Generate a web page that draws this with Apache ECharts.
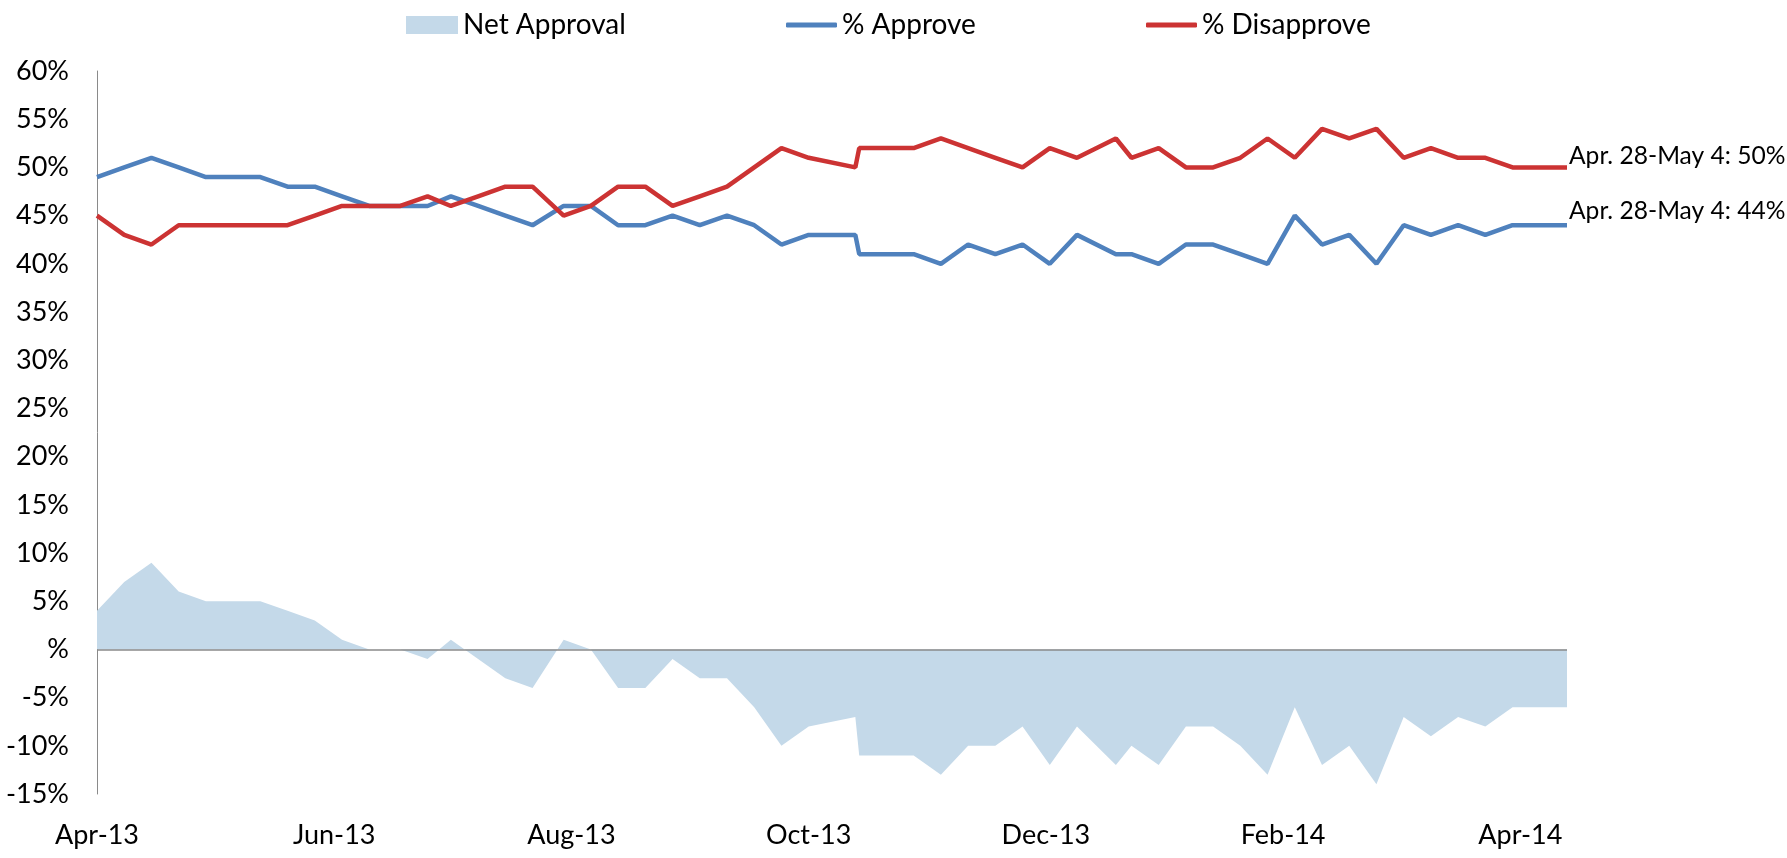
<!DOCTYPE html>
<html><head><meta charset="utf-8">
<script src="https://cdn.jsdelivr.net/npm/echarts@6/dist/echarts.min.js"></script>
<style>html,body{margin:0;padding:0;background:#fff}#c{width:1787px;height:858px}</style>
</head><body><div id="c"></div>
<script>
// Poll dates (week ending), read from the x position of each vertex
const weekDates = [
  '2013-04-21','2013-04-28','2013-05-05','2013-05-12','2013-05-19','2013-05-26',
  '2013-06-02','2013-06-09','2013-06-16','2013-06-23','2013-06-30','2013-07-08',
  '2013-07-15','2013-07-21','2013-07-28','2013-08-04','2013-08-11','2013-08-19',
  '2013-08-26','2013-09-02','2013-09-09','2013-09-16','2013-09-23','2013-09-30',
  '2013-10-07','2013-10-14','2013-10-21','2013-11-02','2013-11-03','2013-11-10',
  '2013-11-17','2013-11-24','2013-12-01','2013-12-08','2013-12-15','2013-12-22',
  '2013-12-29','2014-01-08','2014-01-12','2014-01-19','2014-01-26','2014-02-02',
  '2014-02-09','2014-02-16','2014-02-23','2014-03-02','2014-03-09','2014-03-16',
  '2014-03-23','2014-03-30','2014-04-06','2014-04-13','2014-04-20','2014-04-27',
  '2014-05-04'
];
const approve = [
  49,50,51,50,49,49,49,48,48,47,46,46,46,47,46,45,44,46,46,44,44,45,44,45,44,42,43,
  43,41,41,41,40,42,41,42,40,43,41,41,40,42,42,41,40,45,42,43,40,44,43,44,43,44,44,44
];
const disapprove = [
  45,43,42,44,44,44,44,44,45,46,46,46,47,46,47,48,48,45,46,48,48,46,47,48,50,52,51,
  50,52,52,52,53,52,51,50,52,51,53,51,52,50,50,51,53,51,54,53,54,51,52,51,51,50,50,50
];
const netApproval = [
  4,7,9,6,5,5,5,4,3,1,0,0,-1,1,-1,-3,-4,1,0,-4,-4,-1,-3,-3,-6,-10,-8,
  -7,-11,-11,-11,-13,-10,-10,-8,-12,-8,-12,-10,-12,-8,-8,-10,-13,-6,-12,-10,-14,-7,-9,-7,-8,-6,-6,-6
];
const xTickLabels = ['Apr-13','Jun-13','Aug-13','Oct-13','Dec-13','Feb-14','Apr-14'];
const seriesNames = ['Net Approval','% Approve','% Disapprove'];
const endLabelApprove = 'Apr. 28-May 4: 44%';
const endLabelDisapprove = 'Apr. 28-May 4: 50%';

const TICK_DAYS = 61; // two-month major unit, counted from the first date
const t0 = Date.parse(weekDates[0] + 'T00:00:00Z');
const xs = weekDates.map(d => Math.round((Date.parse(d + 'T00:00:00Z') - t0) / 864e5));
const pair = arr => arr.map((v, i) => [xs[i], v]);

const FONT = 'Lato';
const chart = echarts.init(document.getElementById('c'), null, {renderer: 'canvas'});
const legendBase = {
  top: 6, itemWidth: 52, itemHeight: 18, itemGap: 0, padding: 5,
  textStyle: {fontFamily: FONT, fontSize: 28, color: '#000'}, selectedMode: false
};
chart.setOption({
  animation: false,
  backgroundColor: '#fff',
  grid: {left: 97, right: 220, top: 71, bottom: 64},
  legend: [
    Object.assign({}, legendBase, {left: 401, data: [{name: seriesNames[0], icon: 'rect'}]}),
    Object.assign({}, legendBase, {left: 781, itemHeight: 5, itemWidth: 51,
      data: [{name: seriesNames[1], icon: 'roundRect'}]}),
    Object.assign({}, legendBase, {left: 1141, itemHeight: 5, itemWidth: 51,
      data: [{name: seriesNames[2], icon: 'roundRect'}]})
  ],
  xAxis: {
    type: 'value', min: 0, max: xs[xs.length - 1], interval: TICK_DAYS,
    axisLine: {show: false}, axisTick: {show: false}, splitLine: {show: false},
    axisLabel: {
      show: true, margin: 28, fontFamily: FONT, fontSize: 27, color: '#000',
      showMaxLabel: false,
      formatter: v => (v % TICK_DAYS === 0 ? (xTickLabels[v / TICK_DAYS] || '') : '')
    }
  },
  yAxis: {
    type: 'value', min: -15, max: 60, interval: 5,
    axisLine: {show: true, lineStyle: {color: '#8a8a8a', width: 1}},
    axisTick: {show: false}, splitLine: {show: false},
    axisLabel: {
      margin: 28, fontFamily: FONT, fontSize: 27, color: '#000',
      formatter: v => (v === 0 ? '%' : v + '%')
    }
  },
  series: [
    {
      name: seriesNames[0], type: 'line', data: pair(netApproval), symbol: 'none',
      itemStyle: {color: '#c4d9e9'},
      lineStyle: {width: 0, color: '#c4d9e9'},
      areaStyle: {color: '#c4d9e9', opacity: 1, origin: 'auto'},
      z: 1,
      markLine: {
        silent: true, symbol: 'none', label: {show: false},
        lineStyle: {color: '#8a8a8a', width: 1.5, type: 'solid'},
        data: [{yAxis: 0}]
      }
    },
    {
      name: seriesNames[1], type: 'line', data: pair(approve), symbol: 'none',
      itemStyle: {color: '#4f81bd'}, lineStyle: {width: 4.5, color: '#4f81bd'}, z: 3,
      endLabel: {show: true, formatter: endLabelApprove, fontFamily: FONT, fontSize: 24.6,
                 color: '#000', distance: 2, offset: [0, -14]}
    },
    {
      name: seriesNames[2], type: 'line', data: pair(disapprove), symbol: 'none',
      itemStyle: {color: '#cc3333'}, lineStyle: {width: 4.5, color: '#cc3333'}, z: 3,
      endLabel: {show: true, formatter: endLabelDisapprove, fontFamily: FONT, fontSize: 24.6,
                 color: '#000', distance: 2, offset: [0, -11]}
    }
  ]
});
</script></body></html>
